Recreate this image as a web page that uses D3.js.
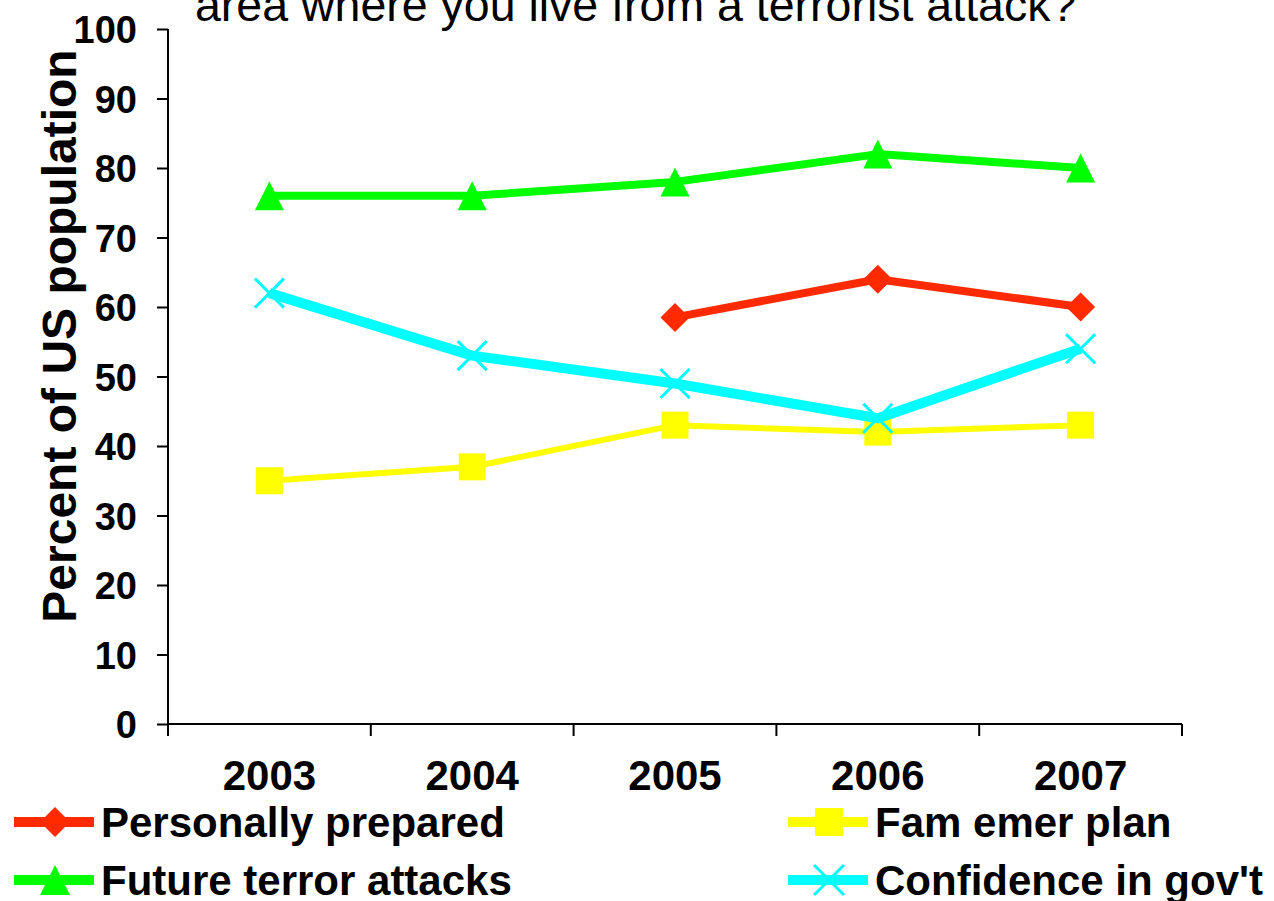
<!DOCTYPE html>
<html>
<head>
<meta charset="utf-8">
<script src="https://cdn.jsdelivr.net/npm/d3@7"></script>
<style>
  html, body { margin: 0; padding: 0; background: #fff; }
  svg { display: block; }
</style>
</head>
<body>
<svg id="chart" width="1274" height="901"></svg>
<script>
// Survey years and series (percent of US population)
const years = ["2003", "2004", "2005", "2006", "2007"];
const personallyPrepared = [null, null, 58.5, 64, 60];
const famEmerPlan = [35, 37, 43, 42, 43];
const futureTerrorAttacks = [76, 76, 78, 82, 80];
const confidenceInGov = [62, 53, 49, 44, 54];
const yTicks = [0, 10, 20, 30, 40, 50, 60, 70, 80, 90, 100];

const titleText = "area where you live from a terrorist attack?";
const yAxisTitle = "Percent of US population";

const series = [
  { name: "Personally prepared", values: personallyPrepared, color: "#ff2a00", width: 8, marker: "diamond" },
  { name: "Fam emer plan", values: famEmerPlan, color: "#ffff00", width: 6, marker: "square" },
  { name: "Future terror attacks", values: futureTerrorAttacks, color: "#00ff00", width: 8, marker: "triangle" },
  { name: "Confidence in gov't", values: confidenceInGov, color: "#00ffff", width: 10, marker: "cross" }
];

const svg = d3.select("#chart");
const font = "'Liberation Sans', Arial, sans-serif";

const plot = { left: 168, right: 1182, top: 29, bottom: 724 };

const x = d3.scaleBand().domain(years).range([plot.left, plot.right]).padding(0);
const y = d3.scaleLinear().domain([0, 100]).range([plot.bottom, plot.top]);

// Title (last line of a multi-line heading)
svg.append("text")
  .attr("x", 195).attr("y", 21)
  .attr("font-family", font).attr("font-size", 46.5)
  .attr("fill", "#000")
  .text(titleText);

// Y axis
const yAxis = svg.append("g")
  .attr("transform", `translate(${plot.left},0)`)
  .call(d3.axisLeft(y).tickValues(yTicks).tickSize(11).tickPadding(20));
yAxis.select(".domain").attr("stroke", "#000").attr("stroke-width", 2).attr("d", `M0,${plot.top}V${plot.bottom}`);
yAxis.selectAll(".tick line").attr("stroke", "#000").attr("stroke-width", 2);
yAxis.selectAll(".tick text")
  .attr("font-family", font).attr("font-size", 38).attr("font-weight", "bold")
  .attr("fill", "#000").attr("dy", "0.36em");

// X axis with ticks on category boundaries
const xAxis = svg.append("g").attr("transform", `translate(0,${plot.bottom})`);
xAxis.append("line")
  .attr("x1", plot.left).attr("x2", plot.right)
  .attr("stroke", "#000").attr("stroke-width", 2);
const boundaries = years.map(d => x(d)).concat([plot.right]);
xAxis.selectAll("line.tick")
  .data(boundaries).enter().append("line")
  .attr("class", "tick")
  .attr("x1", d => d).attr("x2", d => d)
  .attr("y1", 0).attr("y2", 12)
  .attr("stroke", "#000").attr("stroke-width", 2);
xAxis.selectAll("text")
  .data(years).enter().append("text")
  .attr("x", d => x(d) + x.bandwidth() / 2)
  .attr("y", 66)
  .attr("text-anchor", "middle")
  .attr("font-family", font).attr("font-size", 42).attr("font-weight", "bold")
  .attr("fill", "#000")
  .text(d => d);

// Y axis title
svg.append("text")
  .attr("transform", `translate(76,${(50 + 622) / 2}) rotate(-90)`)
  .attr("text-anchor", "middle")
  .attr("font-family", font).attr("font-size", 48).attr("font-weight", "bold")
  .attr("fill", "#000")
  .text(yAxisTitle);

// Marker shapes
function drawMarker(g, type, cx, cy, color, size) {
  const h = size / 2;
  if (type === "diamond") {
    g.append("path").attr("d", `M${cx},${cy - h}L${cx + h},${cy}L${cx},${cy + h}L${cx - h},${cy}Z`).attr("fill", color);
  } else if (type === "square") {
    const s = size * 0.93;
    g.append("rect").attr("x", cx - s / 2).attr("y", cy - s / 2).attr("width", s).attr("height", s).attr("fill", color);
  } else if (type === "triangle") {
    g.append("path").attr("d", `M${cx},${cy - h}L${cx + h},${cy + h}L${cx - h},${cy + h}Z`).attr("fill", color);
  } else if (type === "cross") {
    g.append("path").attr("d", `M${cx - h},${cy - h}L${cx + h},${cy + h}M${cx + h},${cy - h}L${cx - h},${cy + h}`)
      .attr("stroke", color).attr("stroke-width", 3).attr("fill", "none");
  }
}

const cx = d => x(d) + x.bandwidth() / 2;

series.forEach(s => {
  const g = svg.append("g");
  const pts = years.map((yr, i) => ({ yr, v: s.values[i] }));
  const line = d3.line()
    .defined(d => d.v !== null)
    .x(d => cx(d.yr))
    .y(d => y(d.v));
  g.append("path")
    .attr("d", line(pts))
    .attr("fill", "none")
    .attr("stroke", s.color)
    .attr("stroke-width", s.width)
    .attr("stroke-linejoin", "round");
  pts.filter(d => d.v !== null).forEach(d => drawMarker(g, s.marker, cx(d.yr), y(d.v), s.color, 29));
});

// Legend, two columns by two rows
const legendPos = [
  { x: 14, y: 822 },
  { x: 788, y: 822 },
  { x: 14, y: 880 },
  { x: 788, y: 880 }
];
series.forEach((s, i) => {
  const p = legendPos[i];
  const g = svg.append("g");
  g.append("line")
    .attr("x1", p.x).attr("x2", p.x + 80)
    .attr("y1", p.y).attr("y2", p.y)
    .attr("stroke", s.color).attr("stroke-width", 10);
  drawMarker(g, s.marker, p.x + 41, p.y, s.color, 30);
  g.append("text")
    .attr("x", p.x + 87).attr("y", p.y)
    .attr("dy", "0.36em")
    .attr("font-family", font).attr("font-size", 42).attr("font-weight", "bold")
    .attr("fill", "#000")
    .text(s.name);
});
</script>
</body>
</html>
